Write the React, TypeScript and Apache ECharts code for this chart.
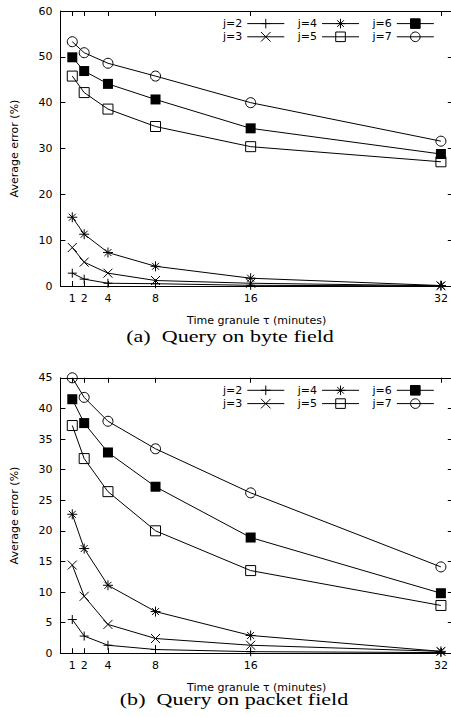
import React, { useEffect, useRef } from 'react';
import * as echarts from 'echarts';

// ---- data ----
const tau = [1, 2, 4, 8, 16, 32];
const xTickValues = [1, 2, 4, 8, 16, 32];
const names = ['j=2', 'j=3', 'j=4', 'j=5', 'j=6', 'j=7'];

// (a) Query on byte field
const byteJ2 = [2.8, 1.5, 0.6, 0.5, 0.15, 0.02];
const byteJ3 = [8.4, 5.2, 2.8, 1.2, 0.6, 0.05];
const byteJ4 = [15.0, 11.3, 7.3, 4.3, 1.7, 0.1];
const byteJ5 = [45.8, 42.2, 38.6, 34.8, 30.4, 27.1];
const byteJ6 = [49.9, 46.9, 44.1, 40.7, 34.4, 28.8];
const byteJ7 = [53.3, 50.9, 48.6, 45.8, 40.0, 31.6];

// (b) Query on packet field
const packJ2 = [5.5, 2.8, 1.3, 0.6, 0.25, 0.1];
const packJ3 = [14.4, 9.3, 4.7, 2.4, 1.3, 0.3];
const packJ4 = [22.7, 17.1, 11.1, 6.8, 2.9, 0.3];
const packJ5 = [37.2, 31.8, 26.4, 20.0, 13.5, 7.8];
const packJ6 = [41.5, 37.6, 32.8, 27.2, 18.9, 9.8];
const packJ7 = [45.0, 41.8, 37.9, 33.4, 26.2, 14.1];

const byteData = [byteJ2, byteJ3, byteJ4, byteJ5, byteJ6, byteJ7];
const packData = [packJ2, packJ3, packJ4, packJ5, packJ6, packJ7];

const captionA = '(a)  Query on byte field';
const captionB = '(b)  Query on packet field';
const xName = 'Time granule τ (minutes)';
const yName = 'Average error (%)';

const FONT = 'DejaVu Sans';

const outline = { color: 'none', borderColor: '#000', borderWidth: 1 };
const markers: Record<string, any> = {
  'j=2': { symbol: 'path://M5 0L5 10M0 5L10 5', size: 9, itemStyle: outline },
  'j=3': { symbol: 'path://M0 0L10 10M10 0L0 10', size: 9, itemStyle: outline },
  'j=4': { symbol: 'path://M5 0L5 10M0 5L10 5M1.5 1.5L8.5 8.5M8.5 1.5L1.5 8.5', size: 10, itemStyle: outline },
  'j=5': { symbol: 'path://M0 0L10 0L10 10L0 10Z', size: 10, itemStyle: outline },
  'j=6': { symbol: 'rect', size: 10, itemStyle: { color: '#000', borderColor: '#000', borderWidth: 0 } },
  'j=7': { symbol: 'circle', size: 10, itemStyle: outline },
};

function makeSeries(name: string, values: number[], gi: number) {
  const m = markers[name];
  return {
    type: 'line',
    name,
    xAxisIndex: gi * 2,
    yAxisIndex: gi * 2,
    data: tau.map((t, i) => [t, values[i]]),
    symbol: m.symbol,
    symbolSize: m.size,
    showSymbol: true,
    itemStyle: m.itemStyle,
    lineStyle: { color: '#000', width: 1 },
    emphasis: { disabled: true },
    silent: true,
    clip: false,
  };
}

function xAxes(gi: number) {
  const base = {
    type: 'value',
    gridIndex: gi,
    min: 0,
    max: 33,
    splitLine: { show: false },
    axisLine: { show: true, onZero: false, lineStyle: { color: '#000', width: 1 } },
    axisTick: { show: true, inside: true, length: 5, customValues: xTickValues, lineStyle: { color: '#000' } },
  };
  return [
    {
      ...base,
      position: 'bottom',
      axisLabel: { show: true, customValues: xTickValues, color: '#000', fontFamily: FONT, fontSize: 11, margin: 7 },
      name: xName,
      nameLocation: 'middle',
      nameGap: 29,
      nameTextStyle: { color: '#000', fontFamily: FONT, fontSize: 11 },
    },
    { ...base, position: 'top', axisLabel: { show: false } },
  ];
}

function yAxes(gi: number, max: number, interval: number) {
  const base = {
    type: 'value',
    gridIndex: gi,
    min: 0,
    max,
    interval,
    splitLine: { show: false },
    axisLine: { show: true, onZero: false, lineStyle: { color: '#000', width: 1 } },
    axisTick: { show: true, inside: true, length: 5, lineStyle: { color: '#000' } },
  };
  return [
    {
      ...base,
      position: 'left',
      axisLabel: { show: true, color: '#000', fontFamily: FONT, fontSize: 11, margin: 8 },
      name: yName,
      nameLocation: 'middle',
      nameGap: 40,
      nameTextStyle: { color: '#000', fontFamily: FONT, fontSize: 11 },
    },
    { ...base, position: 'right', axisLabel: { show: false } },
  ];
}

function legendRow(data: string[], top: number) {
  return {
    data,
    left: 223,
    top,
    orient: 'horizontal',
    align: 'right',
    itemWidth: 37,
    itemHeight: 12,
    itemGap: 13,
    padding: 0,
    selectedMode: false,
    lineStyle: { width: 1 },
    itemStyle: { borderWidth: 1 },
    textStyle: { color: '#000', fontFamily: FONT, fontSize: 11 },
  };
}

export default function App() {
  const ref = useRef<HTMLDivElement>(null);
  useEffect(() => {
    if (!ref.current) return;
    const chart = echarts.init(ref.current, undefined, { renderer: 'svg' });
    const option: any = {
      animation: false,
      backgroundColor: '#fff',
      grid: [
        { left: 60.4, top: 11, width: 392.4, height: 275, outerBoundsMode: 'none', containLabel: false },
        { left: 60.4, top: 377.8, width: 392.4, height: 275.4, outerBoundsMode: 'none', containLabel: false },
      ],
      xAxis: [...xAxes(0), ...xAxes(1)],
      yAxis: [...yAxes(0, 60, 10), ...yAxes(1, 45, 5)],
      legend: [
        legendRow(['j=2', 'j=4', 'j=6'], 16.3),
        legendRow(['j=3', 'j=5', 'j=7'], 29.5),
        legendRow(['j=2', 'j=4', 'j=6'], 383),
        legendRow(['j=3', 'j=5', 'j=7'], 396.3),
      ],
      series: [
        ...names.map((n, i) => makeSeries(n, byteData[i], 0)),
        ...names.map((n, i) => makeSeries(n, packData[i], 1)),
      ],
      graphic: [
        {
          type: 'text',
          x: 230,
          y: 336.1,
          scaleX: 1.33,
          style: { text: captionA, font: '16.6px "Liberation Serif"', fill: '#000', align: 'center', verticalAlign: 'middle' },
        },
        {
          type: 'text',
          x: 234,
          y: 699.4,
          scaleX: 1.33,
          style: { text: captionB, font: '16.6px "Liberation Serif"', fill: '#000', align: 'center', verticalAlign: 'middle' },
        },
      ],
    };
    chart.setOption(option);
    return () => chart.dispose();
  }, []);
  return <div ref={ref} style={{ position: 'absolute', left: 0, top: 0, width: 451, height: 717 }} />;
}
